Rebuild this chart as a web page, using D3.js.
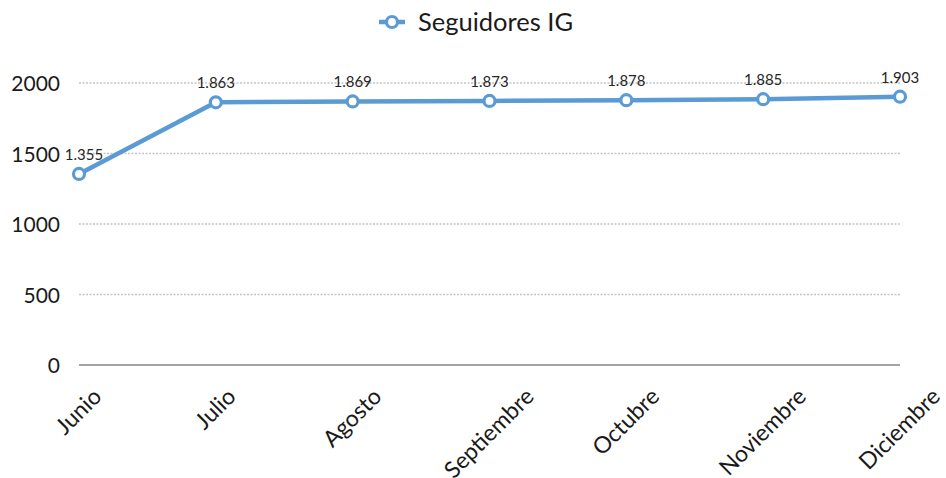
<!DOCTYPE html>
<html><head><meta charset="utf-8">
<script src="https://cdn.jsdelivr.net/npm/d3@7"></script>
<style>html,body{margin:0;padding:0;background:#fff;}svg{display:block;font-family:Lato,"Open Sans",sans-serif;}</style>
</head><body>
<svg id="c" width="946" height="478"></svg>
<script>
const categories = ["Junio","Julio","Agosto","Septiembre","Octubre","Noviembre","Diciembre"];
const seriesName = "Seguidores IG";
const values = [1355,1863,1869,1873,1878,1885,1903];
const dataLabels = ["1.355","1.863","1.869","1.873","1.878","1.885","1.903"];
const yTicks = [0,500,1000,1500,2000];

const svg = d3.select("#c");
const blue = "#5B9BD5";
const x = d3.scalePoint().domain(categories).range([79,900]).padding(0);
const y = d3.scaleLinear().domain([0,2000]).range([365,83]);

// gridlines
svg.append("g").selectAll("line").data(yTicks.filter(d=>d>0)).join("line")
  .attr("x1",79).attr("x2",900).attr("y1",d=>y(d)).attr("y2",d=>y(d))
  .attr("stroke","#c4c4c4").attr("stroke-width",1.5).attr("stroke-dasharray","2,1.5");
// baseline
svg.append("line").attr("x1",79).attr("x2",900).attr("y1",y(0)).attr("y2",y(0))
  .attr("stroke","#868686").attr("stroke-width",1.5);

// y axis labels
const yAxis = d3.axisLeft(y).tickValues(yTicks).tickSize(0).tickPadding(0).tickFormat(d3.format("d"));
const ya = svg.append("g").attr("transform","translate(60,0)").call(yAxis);
ya.select(".domain").remove();
ya.selectAll("text").attr("font-size",21).attr("fill","#1a1a1a").attr("font-family","Lato").attr("dy","0.36em");

// x axis labels
const xg = svg.append("g");
categories.forEach(c=>{
  const t = xg.append("text").text(c).attr("font-size",23).attr("fill","#1a1a1a")
    .attr("text-anchor","end");
  const L = t.node().getComputedTextLength();
  const ex = x(c) + L*0.354 + 5, ey = 398;
  t.attr("transform",`translate(${ex},${ey}) rotate(-45)`);
});

// line
svg.append("path").datum(values)
  .attr("d", d3.line().x((d,i)=>x(categories[i])).y(d=>y(d)))
  .attr("fill","none").attr("stroke",blue).attr("stroke-width",4.5).attr("stroke-linejoin","round");
svg.append("g").selectAll("circle").data(values).join("circle")
  .attr("cx",(d,i)=>x(categories[i])).attr("cy",d=>y(d)).attr("r",5.5)
  .attr("fill","#fff").attr("stroke",blue).attr("stroke-width",3.2);

// data labels
svg.append("g").selectAll("text").data(values).join("text")
  .attr("x",(d,i)=>x(categories[i]) + (i===0?5:0)).attr("y",d=>y(d)-14)
  .attr("text-anchor","middle").attr("font-size",15).attr("fill","#262626")
  .text((d,i)=>dataLabels[i]);

// legend
const lg = svg.append("g");
lg.append("line").attr("x1",379).attr("x2",405).attr("y1",22).attr("y2",22)
  .attr("stroke",blue).attr("stroke-width",4.5);
lg.append("circle").attr("cx",392).attr("cy",22).attr("r",5.5)
  .attr("fill","#fff").attr("stroke",blue).attr("stroke-width",3.2);
lg.append("text").attr("x",418).attr("y",31).attr("font-size",25.5).attr("fill","#1a1a1a").text(seriesName);
</script>
</body></html>
